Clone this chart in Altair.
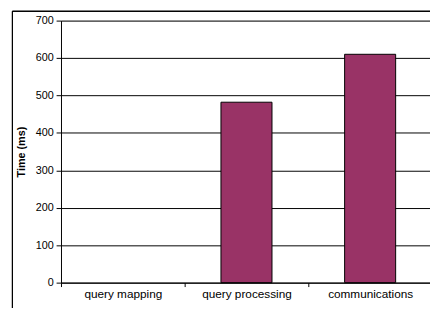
import altair as alt
import pandas as pd

categories = ["query mapping", "query processing", "communications"]
times_ms = [0, 482, 610]

df = pd.DataFrame({"task": categories, "time": times_ms})

FONT = "Liberation Sans"

bars = alt.Chart(df).mark_bar(size=52, fill="#993366", stroke="black", strokeWidth=1).encode(
    x=alt.X("task:N", sort=categories, title=None,
            scale=alt.Scale(domain=categories, range=[0, 378], paddingInner=0, paddingOuter=0),
            axis=alt.Axis(labelAngle=0, tickBand="extent", tickSize=4, tickColor="black",
                          domainColor="black", labelFont=FONT, labelFontSize=12,
                          labelColor="black", labelPadding=2, grid=False)),
    y=alt.Y("time:Q", title="Time (ms)",
            scale=alt.Scale(domain=[0, 700], nice=False),
            axis=alt.Axis(values=[0, 100, 200, 300, 400, 500, 600, 700], tickSize=5,
                          tickColor="black", domainColor="black", gridColor="black",
                          gridOpacity=1, gridWidth=1, labelFont=FONT, labelFontSize=11,
                          labelColor="black", labelPadding=3, titleFont=FONT,
                          titleFontSize=11, titleFontWeight="bold", titleColor="black",
                          titlePadding=9)),
).transform_filter("datum.time > 0")

frame_left = alt.Chart(df).mark_rule(color="black", strokeWidth=1).encode(
    x=alt.value(-49.5), y=alt.value(-9.5), y2=alt.value(300)
)
frame_top = alt.Chart(df).mark_rule(color="black", strokeWidth=1).encode(
    x=alt.value(-49.5), x2=alt.value(400), y=alt.value(-9.5)
)

chart = alt.layer(bars, frame_left, frame_top).properties(
    width=376, height=267,
    autosize=alt.AutoSizeParams(type="none"),
    padding={"left": 54, "top": 10, "right": 0, "bottom": 23},
).configure_view(stroke=None).configure(background="white")

chart.save("out.html", embed_options={"renderer": "svg", "actions": False})
